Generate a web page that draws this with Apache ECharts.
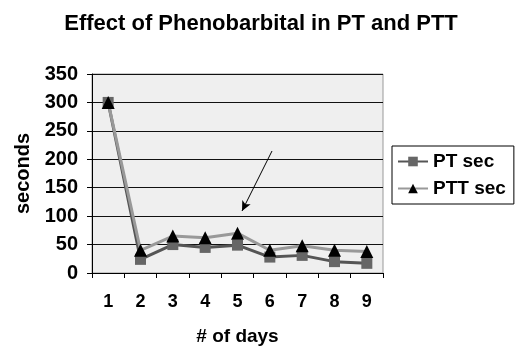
<!DOCTYPE html>
<html>
<head>
<meta charset="utf-8">
<script src="https://cdn.jsdelivr.net/npm/echarts@6/dist/echarts.min.js"></script>
<style>
  html, body { margin: 0; padding: 0; background: #fff; }
  #chart { width: 520px; height: 364px; }
</style>
</head>
<body>
<div id="chart"></div>
<script>
const days = ['1', '2', '3', '4', '5', '6', '7', '8', '9']
const ptSec = [300, 24, 50, 45, 49, 28, 31, 20, 17]
const pttSec = [300, 40, 65, 62, 70, 40, 48, 40, 38]

const chart = echarts.init(document.getElementById('chart'))
const font = 'Liberation Sans, Arial, sans-serif'

const option = {
  animation: false,
  title: {
    text: 'Effect of Phenobarbital in PT and PTT',
    left: 256,
    top: 8,
    textAlign: 'center',
    textStyle: { fontFamily: font, fontSize: 22, fontWeight: 'bold', color: '#000' }
  },
  legend: {
    orient: 'vertical',
    left: 392,
    top: 146,
    width: 123,
    padding: [6, 8, 6, 5],
    itemGap: 8,
    itemWidth: 30,
    itemHeight: 12,
    borderColor: '#000',
    borderWidth: 1,
    textStyle: { fontFamily: font, fontSize: 19, fontWeight: 'bold', color: '#000' },
    data: ['PT sec', 'PTT sec']
  },
  grid: {
    left: 92,
    right: 137,
    top: 74,
    bottom: 91,
    show: true,
    backgroundColor: '#efefef',
    borderColor: '#999',
    borderWidth: 1
  },
  xAxis: {
    type: 'category',
    data: days,
    boundaryGap: true,
    name: '# of days',
    nameLocation: 'middle',
    nameGap: 54,
    nameTextStyle: { fontFamily: font, fontSize: 19, fontWeight: 'bold', color: '#000' },
    axisLine: { lineStyle: { color: '#000', width: 1 } },
    axisTick: { show: true, length: 5, lineStyle: { color: '#000' } },
    axisLabel: { fontFamily: font, fontSize: 18, fontWeight: 'bold', color: '#000', margin: 20 }
  },
  yAxis: {
    type: 'value',
    min: 0,
    max: 350,
    interval: 50,
    name: 'seconds',
    nameLocation: 'middle',
    nameGap: 57,
    nameTextStyle: { fontFamily: font, fontSize: 20, fontWeight: 'bold', color: '#000' },
    axisLine: { show: true, lineStyle: { color: '#000', width: 1 } },
    axisTick: { show: true, length: 5, lineStyle: { color: '#000' } },
    axisLabel: { fontFamily: font, fontSize: 20, fontWeight: 'bold', color: '#000', margin: 14 },
    splitLine: { lineStyle: { color: '#111', width: 1 } }
  },
  series: [
    {
      name: 'PT sec',
      type: 'line',
      data: ptSec,
      symbol: 'rect',
      symbolSize: 11,
      color: '#666',
      lineStyle: { color: '#555', width: 3 },
      itemStyle: { color: '#666' },
      z: 2
    },
    {
      name: 'PTT sec',
      type: 'line',
      data: pttSec,
      symbol: 'triangle',
      symbolSize: 13,
      color: '#000',
      lineStyle: { color: '#999', width: 3 },
      itemStyle: { color: '#000' },
      z: 3,
      markLine: {
        silent: true,
        symbol: ['none', 'arrow'],
        symbolSize: [7, 10],
        label: { show: false },
        lineStyle: { color: '#000', width: 1, type: 'solid' },
        data: [[{ x: 272, y: 151 }, { x: 242, y: 211 }]]
      }
    }
  ]
}

chart.setOption(option)
</script>
</body>
</html>
